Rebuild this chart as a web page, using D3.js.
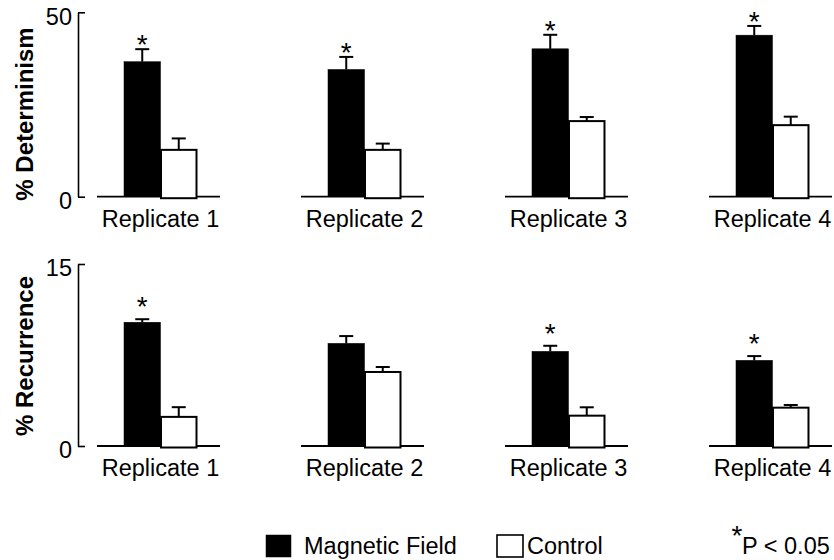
<!DOCTYPE html>
<html><head><meta charset="utf-8">
<script src="https://cdn.jsdelivr.net/npm/d3@7"></script>
<style>
body{margin:0;background:#fff}
text{font-family:"Liberation Sans",Arial,Helvetica,sans-serif;fill:#000}
</style>
</head><body>
<svg id="chart" width="834" height="560"></svg>
<script>
// ---- data ----
const replicates = ["Replicate 1", "Replicate 2", "Replicate 3", "Replicate 4"];
const seriesNames = ["Magnetic Field", "Control"];
const detMagnetic = [36.6, 34.5, 40.1, 43.8];
const detMagneticErr = [3.4, 3.4, 3.8, 2.5];
const detControl = [12.7, 12.7, 20.5, 19.4];
const detControlErr = [3.1, 1.7, 1.1, 2.3];
const detSignificant = [true, true, true, true];
const recMagnetic = [10.2, 8.46, 7.8, 7.06];
const recMagneticErr = [0.25, 0.6, 0.46, 0.35];
const recControl = [2.4, 6.1, 2.5, 3.16];
const recControlErr = [0.8, 0.41, 0.69, 0.22];
const recSignificant = [true, false, true, true];
const detTicks = [0, 50];
const recTicks = [0, 15];
const sigNote = "P < 0.05";

// ---- layout ----
const svg = d3.select("#chart");
const FS = 23.5;

const xg = d3.scaleBand().domain(replicates).range([97, 832]).paddingInner(0.397).paddingOuter(0);
const xs = d3.scaleBand().domain(seriesNames).range([27, 100]).padding(0);

function panel(cfg) {
  const y = d3.scaleLinear().domain([0, cfg.ticks[1]]).range([cfg.base, cfg.top]);
  const g = svg.append("g");

  // y axis
  const ax = g.append("g").attr("transform", "translate(78,0)")
    .call(d3.axisLeft(y).tickValues(cfg.ticks).tickSize(-7).tickPadding(6).tickSizeOuter(0));
  ax.selectAll("path,line").attr("stroke", "#000").attr("stroke-width", 1.6);
  ax.selectAll("text").attr("font-size", FS).attr("font-family", "Liberation Sans, Arial, sans-serif")
    .attr("fill", "#000").attr("dy", "0.5em");

  // y title
  g.append("text")
    .attr("transform", `translate(32.5,${cfg.titleY}) rotate(-90)`)
    .attr("text-anchor", "middle")
    .attr("font-size", 24).attr("font-weight", "bold")
    .text(cfg.title);

  const rows = replicates.map((r, i) => ({
    r, i,
    vals: [
      { s: seriesNames[0], v: cfg.mag[i], e: cfg.magErr[i] },
      { s: seriesNames[1], v: cfg.ctl[i], e: cfg.ctlErr[i] }
    ],
    sig: cfg.sig[i]
  }));

  const grp = g.selectAll("g.grp").data(rows).join("g").attr("class", "grp")
    .attr("transform", d => `translate(${xg(d.r)},0)`);

  // baseline
  grp.append("line")
    .attr("x1", 0).attr("x2", xg.bandwidth())
    .attr("y1", y(0)).attr("y2", y(0))
    .attr("stroke", "#000").attr("stroke-width", 1.8);

  // bars
  grp.selectAll("rect").data(d => d.vals).join("rect")
    .attr("x", d => xs(d.s) + (d.s === seriesNames[1] ? 0.5 : 0))
    .attr("width", d => xs.bandwidth() - (d.s === seriesNames[1] ? 1 : 0))
    .attr("y", d => y(d.v))
    .attr("height", d => y(0) - y(d.v) + (d.s === seriesNames[1] ? 1.5 : 0))
    .attr("fill", d => d.s === seriesNames[0] ? "#000" : "#fff")
    .attr("stroke", "#000")
    .attr("stroke-width", d => d.s === seriesNames[0] ? 0.5 : 2);

  // error bars
  const eb = grp.selectAll("g.eb").data(d => d.vals).join("g").attr("class", "eb");
  eb.append("line")
    .attr("x1", d => xs(d.s) + xs.bandwidth() / 2).attr("x2", d => xs(d.s) + xs.bandwidth() / 2)
    .attr("y1", d => y(d.v)).attr("y2", d => y(d.v + d.e))
    .attr("stroke", "#000").attr("stroke-width", 2);
  eb.append("line")
    .attr("x1", d => xs(d.s) + xs.bandwidth() / 2 - 7).attr("x2", d => xs(d.s) + xs.bandwidth() / 2 + 7)
    .attr("y1", d => y(d.v + d.e)).attr("y2", d => y(d.v + d.e))
    .attr("stroke", "#000").attr("stroke-width", 2);

  // significance stars
  grp.filter(d => d.sig).append("text")
    .attr("x", xs(seriesNames[0]) + xs.bandwidth() / 2)
    .attr("y", d => y(d.vals[0].v + d.vals[0].e) + cfg.starDy)
    .attr("text-anchor", "middle").attr("font-size", 28)
    .text("*");

  // group labels
  grp.append("text")
    .attr("x", xg.bandwidth() / 2 + 2)
    .attr("y", y(0) + 30)
    .attr("text-anchor", "middle").attr("font-size", FS)
    .text(d => d.r);
}

panel({ ticks: detTicks, base: 196.7, top: 12.3, title: "% Determinism", titleY: 114,
  mag: detMagnetic, magErr: detMagneticErr, ctl: detControl, ctlErr: detControlErr,
  sig: detSignificant, starDy: 5 });
panel({ ticks: recTicks, base: 446, top: 264, title: "% Recurrence", titleY: 356,
  mag: recMagnetic, magErr: recMagneticErr, ctl: recControl, ctlErr: recControlErr,
  sig: recSignificant, starDy: -3 });

// ---- legend ----
const lg = svg.append("g");
const legendItems = [
  { s: seriesNames[0], x: 266, fill: "#000", w: 25, tx: 304 },
  { s: seriesNames[1], x: 497, fill: "#fff", w: 26, tx: 527 }
];
lg.selectAll("rect").data(legendItems).join("rect")
  .attr("x", d => d.x).attr("y", 535).attr("width", d => d.w).attr("height", 22)
  .attr("fill", d => d.fill).attr("stroke", "#000").attr("stroke-width", d => d.fill === "#000" ? 0.5 : 1.6);
lg.selectAll("text.li").data(legendItems).join("text").attr("class", "li")
  .attr("x", d => d.tx).attr("y", 554).attr("font-size", FS).text(d => d.s);
lg.append("text").attr("x", 737).attr("y", 545).attr("text-anchor", "middle")
  .attr("font-size", 28).text("*");
lg.append("text").attr("x", 742).attr("y", 554).attr("font-size", FS).text(sigNote);
</script>
</body></html>
